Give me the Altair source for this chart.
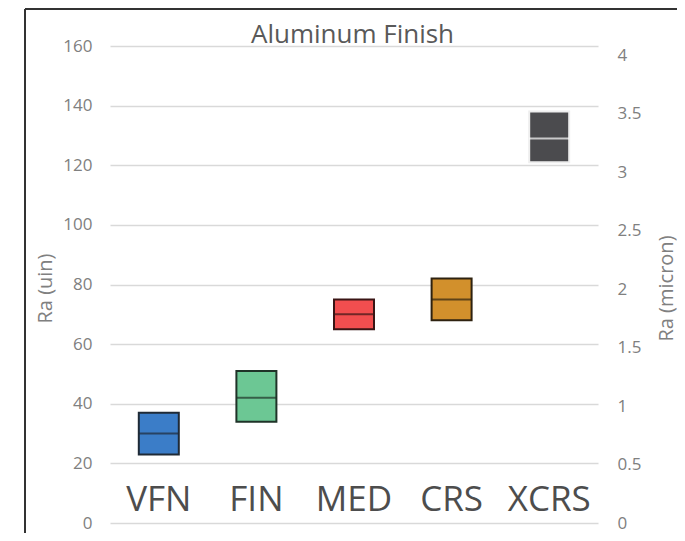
import altair as alt
import pandas as pd

categories = ["VFN", "FIN", "MED", "CRS", "XCRS"]
low_vals = [23, 34, 65, 68, 121]
mid_vals = [30, 42, 70, 75, 129]
high_vals = [37, 51, 75, 82, 138]
fill_colors = ["#3b7dc8", "#6cc794", "#f24e4f", "#d2902c", "#4b4b4e"]
stroke_colors = ["#1f2a36", "#1f3328", "#3a1515", "#2e2210", "#eeeeee"]
median_colors = ["#1f2a36", "#1f3328", "#3a1515", "#2e2210", "#ffffff"]
left_ticks = [0, 20, 40, 60, 80, 100, 120, 140, 160]
right_ticks = [0, 0.5, 1, 1.5, 2, 2.5, 3, 3.5, 4]
label_level = [4, 4, 4, 4, 4]
chart_title = "Aluminum Finish"

df = pd.DataFrame({
    "cat": categories,
    "low": low_vals,
    "mid": mid_vals,
    "high": high_vals,
    "lab": label_level,
})
df["mid_um"] = df["mid"] / 40.0

W, H = 488, 477
font = "Open Sans"
axis_gray = "#808080"

left_axis = alt.Axis(
    title="Ra (uin)", values=left_ticks, grid=True, gridColor="#d9d9d9",
    gridWidth=1.5, domain=False, ticks=False, labelPadding=18,
    labelFontSize=17, labelColor=axis_gray, labelFont=font,
    titleFont=font, titleFontSize=20, titleColor=axis_gray,
    titleFontWeight="normal", titleAngle=270, titleX=-65, titleY=242,
    titleAlign="center", titleBaseline="middle",
)
yscale = alt.Scale(domain=[0, 160], nice=False, zero=True)
xenc = alt.X("cat:N", sort=categories, axis=None,
             scale=alt.Scale(domain=categories))

base = alt.Chart(df)

bars = base.mark_bar(size=40, strokeWidth=2).encode(
    x=xenc,
    y=alt.Y("low:Q", scale=yscale, axis=left_axis),
    y2="high:Q",
    fill=alt.Fill("cat:N", scale=alt.Scale(domain=categories, range=fill_colors), legend=None),
    stroke=alt.Stroke("cat:N", scale=alt.Scale(domain=categories, range=stroke_colors), legend=None),
)

medians = base.mark_tick(size=40, thickness=2).encode(
    x=xenc,
    y=alt.Y("mid:Q", scale=yscale, axis=left_axis),
    color=alt.Color("cat:N", scale=alt.Scale(domain=categories, range=median_colors), legend=None),
)

labels = base.mark_text(font=font, fontSize=35, color="#4d4d4d",
                        baseline="alphabetic", align="center").encode(
    x=xenc,
    y=alt.Y("lab:Q", scale=yscale, axis=left_axis),
    text="cat:N",
)

left_layer = alt.layer(bars, medians, labels)

right_axis = alt.Axis(
    orient="right", title="Ra (micron)", values=right_ticks, format="~g",
    grid=False, domain=False, ticks=False, labelPadding=19,
    labelFontSize=17, labelColor=axis_gray, labelFont=font,
    titleFont=font, titleFontSize=20, titleColor=axis_gray,
    titleFontWeight="normal", titleAngle=270, titleX=68, titleY=242,
    titleAlign="center", titleBaseline="middle",
)
right_layer = base.mark_point(opacity=0).encode(
    x=xenc,
    y=alt.Y("mid_um:Q", scale=alt.Scale(domain=[0, 4.08], nice=False), axis=right_axis),
)

title_df = pd.DataFrame({"t": [chart_title]})
title_mark = alt.Chart(title_df).mark_text(
    font=font, fontSize=26, color="#595959", baseline="alphabetic", align="center"
).encode(x=alt.value(242.5), y=alt.value(-3), text="t:N")

frame_df = pd.DataFrame({"k": [0]})
frame_left = alt.Chart(frame_df).mark_rule(color="#333333", strokeWidth=2).encode(
    x=alt.value(-85), y=alt.value(-37), y2=alt.value(H + 10)
)
frame_top = alt.Chart(frame_df).mark_rule(color="#333333", strokeWidth=2).encode(
    x=alt.value(-85), x2=alt.value(W + 79), y=alt.value(-37)
)

chart = alt.layer(left_layer, right_layer, title_mark, frame_left, frame_top).resolve_scale(
    y="independent"
).properties(
    width=W, height=H,
    autosize=alt.AutoSizeParams(type="none"),
    padding={"left": 102, "top": 38, "right": 79, "bottom": 10},
    background="white",
).configure_view(stroke=None)

chart.save("out.html", embed_options={"renderer": "svg", "actions": False})
